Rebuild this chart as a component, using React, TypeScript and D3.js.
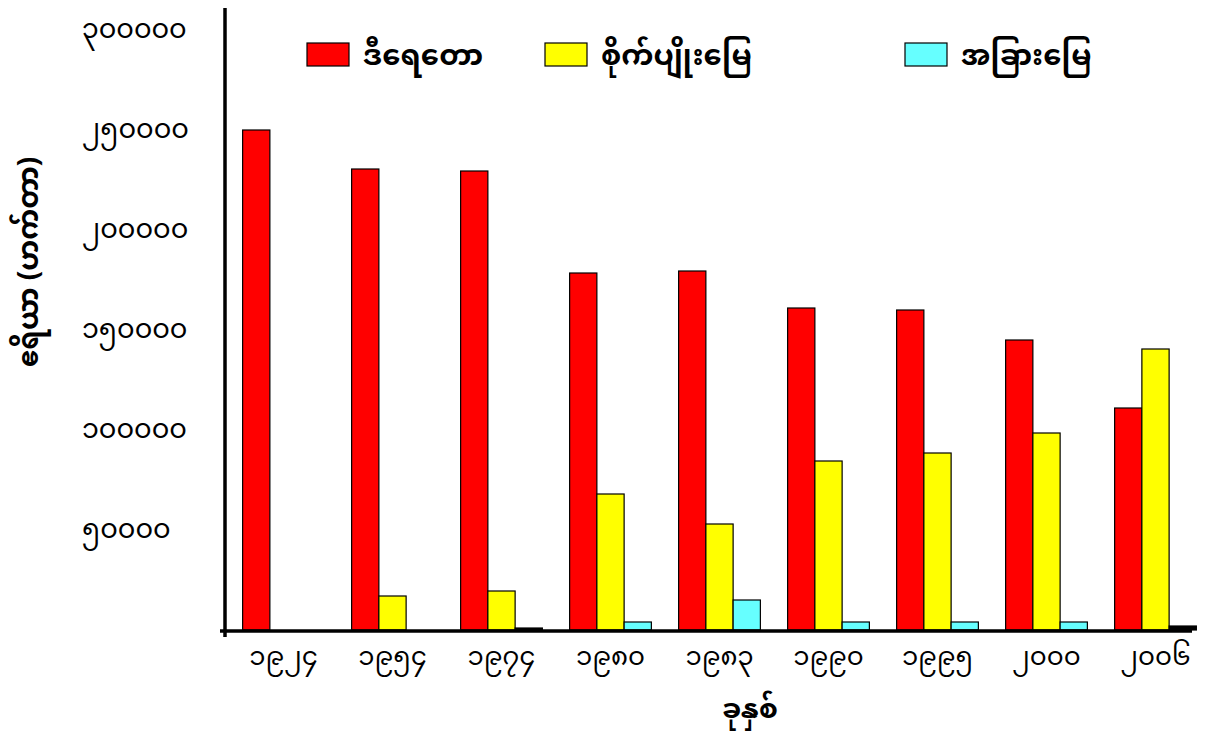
import * as React from 'react';
import * as d3 from 'd3';

// categories: years, written in Myanmar digits
const years = ['၁၉၂၄', '၁၉၅၄', '၁၉၇၄', '၁၉၈၀', '၁၉၈၃', '၁၉၉၀', '၁၉၉၅', '၂၀၀၀', '၂၀၀၆'];

// series values (hectares)
const mangrove = [250000, 230500, 229500, 178500, 179500, 161000, 160000, 145000, 111000];
const farmland = [0, 17000, 19500, 68000, 53000, 84500, 88500, 98500, 140500];
const otherLand = [0, 0, 1000, 4000, 15000, 4000, 4000, 4000, 2000];

const seriesNames = ['ဒီရေတော', 'စိုက်ပျိုးမြေ', 'အခြားမြေ'];
const seriesColors = ['#ff0000', '#ffff00', '#66ffff'];

const yTicks = [50000, 100000, 150000, 200000, 250000, 300000];
const yTickLabels = ['၅၀၀၀၀', '၁၀၀၀၀၀', '၁၅၀၀၀၀', '၂၀၀၀၀၀', '၂၅၀၀၀၀', '၃၀၀၀၀၀'];

const yTitle = 'ဧရိယာ (ဟက်တာ)';
const xTitle = 'ခုနှစ်';

const width = 1208;
const height = 742;
const fontFamily = '"Noto Sans Myanmar", "Myanmar Text", Padauk, "Noto Sans", sans-serif';

export default function App() {
    const series = [mangrove, farmland, otherLand];

    const xScale = d3.scaleBand<string>()
        .domain(years)
        .range([229, 1210])
        .paddingInner(0.25)
        .paddingOuter(0.125);

    const inner = d3.scaleBand<number>()
        .domain([0, 1, 2])
        .range([0, xScale.bandwidth()]);

    const yScale = d3.scaleLinear()
        .domain([0, 300000])
        .range([630, 30]);

    const legendX = [307, 545, 905];

    return (
        <svg width={width} height={height} style={{ position: 'absolute', left: 0, top: 0, fontFamily }}>
            <rect x={0} y={0} width={width} height={height} fill="#fff" />

            {/* bars */}
            {years.map((year, i) => (
                <g key={year} transform={`translate(${xScale(year)},0)`}>
                    {series.map((values, s) => values[i] > 0 && (
                        <rect
                            key={s}
                            x={inner(s)}
                            y={yScale(values[i])}
                            width={inner.bandwidth()}
                            height={yScale(0) - yScale(values[i])}
                            fill={values[i] < 2500 ? '#000' : seriesColors[s]}
                            stroke="#000"
                            strokeWidth={1.2}
                        />
                    ))}
                </g>
            ))}

            {/* axes */}
            <line x1={225} x2={225} y1={8} y2={637} stroke="#000" strokeWidth={3.5} />
            <line x1={220} x2={1192} y1={yScale(0) + 1} y2={yScale(0) + 1} stroke="#000" strokeWidth={3.5} />

            {/* y tick labels */}
            {yTicks.map((t, i) => (
                <text key={t} x={82} y={yScale(t)} dy="0.3em" fontSize={27} fill="#000">
                    {yTickLabels[i]}
                </text>
            ))}

            {/* x tick labels */}
            {years.map(year => (
                <text key={year} x={(xScale(year) ?? 0) + xScale.bandwidth() / 2} y={665}
                    textAnchor="middle" fontSize={26} fill="#000">
                    {year}
                </text>
            ))}

            {/* axis titles */}
            <text x={750} y={718} textAnchor="middle" fontSize={27} fontWeight="bold">{xTitle}</text>
            <text transform="translate(38,262) rotate(-90)" textAnchor="middle" fontSize={28} fontWeight="bold">
                {yTitle}
            </text>

            {/* legend */}
            {seriesNames.map((name, s) => (
                <g key={name} transform={`translate(${legendX[s]},43)`}>
                    <rect x={0} y={0} width={42} height={23} fill={seriesColors[s]} stroke="#000" strokeWidth={1.2} />
                    <text x={56} y={12} dy="0.35em" fontSize={29} fontWeight="bold">{name}</text>
                </g>
            ))}
        </svg>
    );
}
